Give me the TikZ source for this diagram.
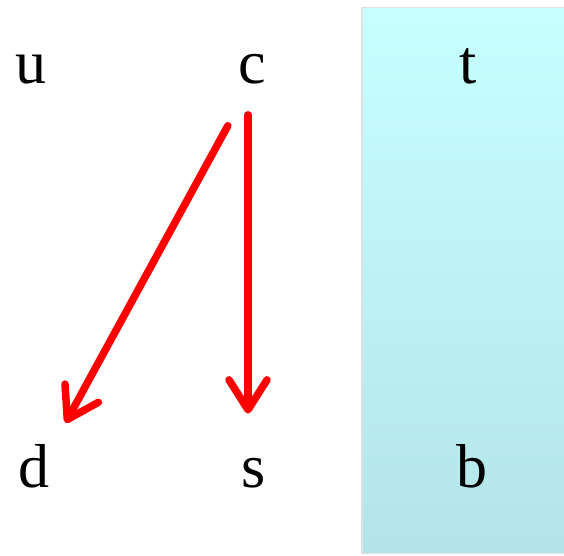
\documentclass[tikz,border=0pt]{standalone}
\usepackage{fontspec}
\setmainfont{Liberation Serif}
\usetikzlibrary{arrows.meta}

\definecolor{boxtop}{HTML}{C7FFFF}
\definecolor{boxbot}{HTML}{B3E4E9}
\definecolor{arrred}{HTML}{FF0000}

\begin{document}
\begin{tikzpicture}[x=1pt, y=-1pt,
  every node/.style={font=\fontsize{62}{62}\selectfont, inner sep=0pt, anchor=base},
  arr/.style={draw=arrred, line width=7.5pt, line cap=round,
    -{Straight Barb[length=30pt, width=38pt, line cap=round, line join=round]}}]
\useasboundingbox (0,0) rectangle (564,555);
% shaded panel on the right
\fill[black!12] (361,7) rectangle (570,554);
\shade[top color=boxtop, bottom color=boxbot] (363,8) rectangle (570,552);
\node (u) at (31,83) {u};
\node (c) at (252,83) {c};
\node (t) at (468,83) {t};
\node (d) at (34,487) {d};
\node (s) at (254,487) {s};
\node (b) at (472,487) {b};
\draw[arr, shorten <=65pt, shorten >=49pt] ([xshift=7pt]c.center) -- ([xshift=8pt]d.center);
\draw[arr, shorten <=31pt, shorten >=44pt] ([xshift=-4pt]c.south) -- ([xshift=-4pt]c.south |- s.north);
\end{tikzpicture}
\end{document}
